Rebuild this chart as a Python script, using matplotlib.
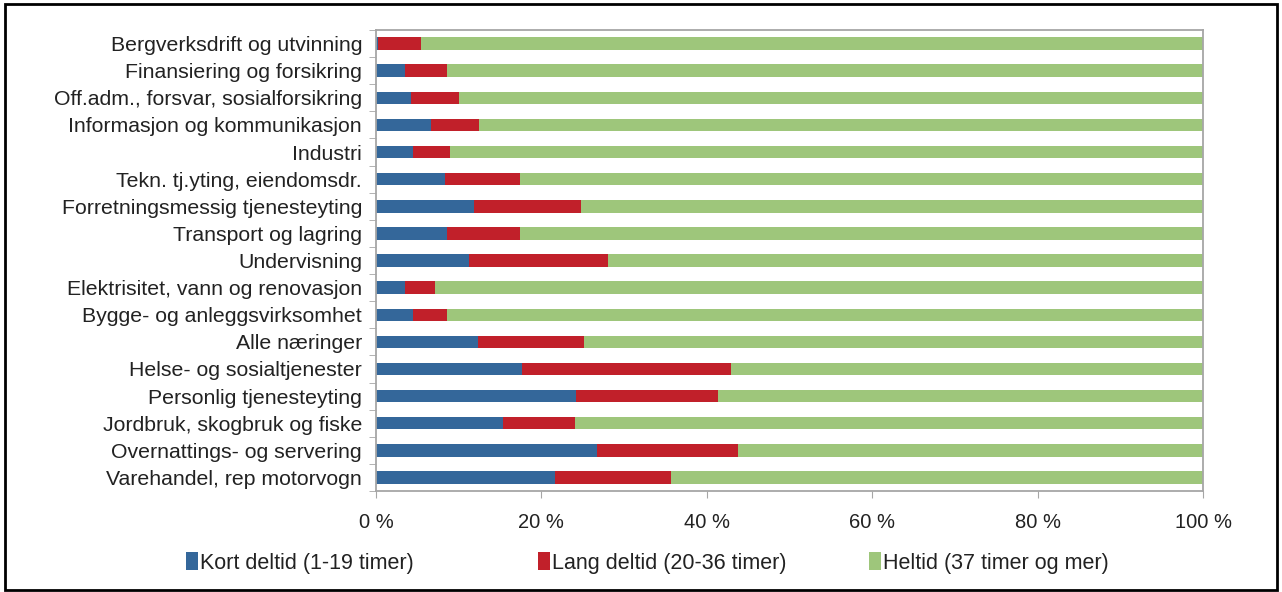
import numpy as np
import matplotlib.pyplot as plt
from matplotlib.patches import Rectangle, Patch

# Næringer, nederst til øverst
naeringer = [
    "Varehandel, rep motorvogn",
    "Overnattings- og servering",
    "Jordbruk, skogbruk og fiske",
    "Personlig tjenesteyting",
    "Helse- og sosialtjenester",
    "Alle næringer",
    "Bygge- og anleggsvirksomhet",
    "Elektrisitet, vann og renovasjon",
    "Undervisning",
    "Transport og lagring",
    "Forretningsmessig tjenesteyting",
    "Tekn. tj.yting, eiendomsdr.",
    "Industri",
    "Informasjon og kommunikasjon",
    "Off.adm., forsvar, sosialforsikring",
    "Finansiering og forsikring",
    "Bergverksdrift og utvinning",
]

# Andel sysselsatte (%)
kort_deltid = [21.6, 26.7, 15.4, 24.2, 17.7, 12.3, 4.5, 3.5, 11.3, 8.6, 11.9, 8.4, 4.5, 6.7, 4.2, 3.5, 0.3]
lang_deltid = [14.1, 17.1, 8.7, 17.1, 25.2, 12.8, 4.1, 3.6, 16.7, 8.8, 12.9, 9.0, 4.5, 5.8, 5.8, 5.1, 5.2]
heltid = [100 - k - l for k, l in zip(kort_deltid, lang_deltid)]

serier = ["Kort deltid (1-19 timer)", "Lang deltid (20-36 timer)", "Heltid (37 timer og mer)"]
farger = ["#34679A", "#C1202A", "#9EC67B"]

plt.rcParams['font.family'] = ['Liberation Sans', 'DejaVu Sans']

fig = plt.figure(figsize=(12.82, 5.92), dpi=100)
ax = fig.add_axes([0.2933, 0.1706, 0.6451, 0.7787])

y = np.arange(len(naeringer))
venstre = np.zeros(len(naeringer))
for verdier, farge in zip([kort_deltid, lang_deltid, heltid], farger):
    ax.barh(y, verdier, left=venstre, height=0.46, color=farge)
    venstre += np.array(verdier)

ax.set_xlim(0, 100)
ax.set_ylim(-0.5, len(naeringer) - 0.5)

# y-akse: etiketter uten streker, små streker mellom kategoriene
ax.set_yticks(y)
ax.set_yticklabels(naeringer, fontsize=15.3, color="#222222")
ax.tick_params(axis='y', which='major', length=0, pad=10)
ax.set_yticks(np.arange(-0.5, len(naeringer)), minor=True)
ax.tick_params(axis='y', which='minor', length=5, color="#A6A6A6", direction='out')

ax.set_xticks(np.arange(0, 101, 20))
ax.set_xticklabels([f"{v} %" for v in range(0, 101, 20)], fontsize=14.5, color="#222222")
ax.tick_params(axis='x', length=5, color="#A6A6A6", pad=11)

for side in ["left", "bottom", "top", "right"]:
    ax.spines[side].set_color("#A6A6A6")
    ax.spines[side].set_linewidth(1.3)

# Forklaring: tre separate oppføringer
legend_x = [186, 538, 869]
for navn, farge, xp in zip(serier, farger, legend_x):
    leg = fig.legend([Patch(facecolor=farge, edgecolor='none')], [navn],
                     loc='center left', bbox_to_anchor=(xp / 1282, 0.049),
                     frameon=False, handlelength=0.55, handleheight=0.9,
                     handletextpad=0.1, borderpad=0, borderaxespad=0,
                     prop={'size': 15.5})
    leg.get_texts()[0].set_color("#222222")

# Ramme rundt hele figuren
fig.patches.append(Rectangle((0.004, 0.003), 0.992, 0.99, transform=fig.transFigure,
                             fill=False, edgecolor='black', linewidth=2))

fig.savefig("out.png", dpi=100)
plt.close(fig)
